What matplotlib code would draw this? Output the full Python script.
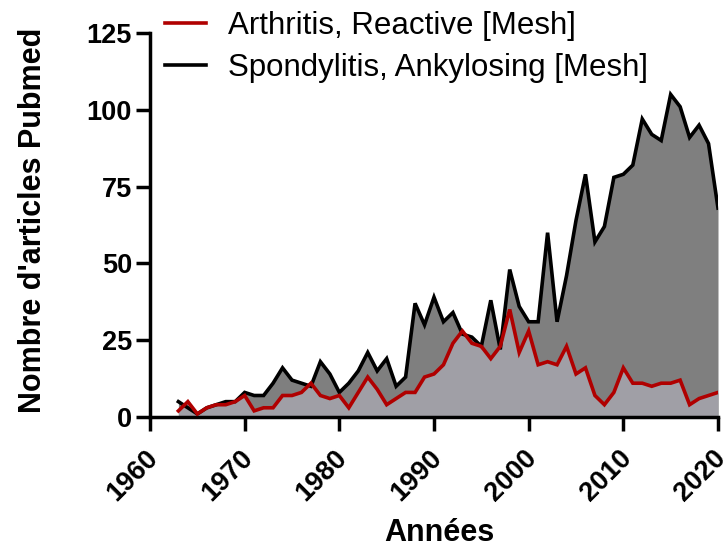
import matplotlib
matplotlib.use("Agg")
import matplotlib.pyplot as plt
from matplotlib.lines import Line2D
from matplotlib.transforms import ScaledTranslation

years = list(range(1963, 2021))
spondylitis = [5, 3, 1, 3, 4, 5, 5, 8, 7, 7, 11, 16, 12, 11, 10, 18, 14, 8, 11, 15,
               21, 15, 19, 10, 13, 37, 30, 39, 31, 34, 27, 26, 23, 38, 22, 48, 36, 31,
               31, 60, 31, 46, 64, 79, 57, 62, 78, 79, 82, 97, 92, 90, 105, 101, 91,
               95, 89, 68]
arthritis = [2, 5, 1, 3, 4, 4, 5, 7, 2, 3, 3, 7, 7, 8, 11, 7, 6, 7, 3, 8,
             13, 9, 4, 6, 8, 8, 13, 14, 17, 24, 28, 24, 23, 19, 23, 35, 21, 28,
             17, 18, 17, 23, 14, 16, 7, 4, 8, 16, 11, 11, 10, 11, 11, 12, 4,
             6, 7, 8]
labels = ["Arthritis, Reactive [Mesh]", "Spondylitis, Ankylosing [Mesh]"]
xticks = [1960, 1970, 1980, 1990, 2000, 2010, 2020]
yticks = [0, 25, 50, 75, 100, 125]

plt.rcParams['font.family'] = ['Liberation Sans', 'DejaVu Sans']

W, H = 726, 555
fig = plt.figure(figsize=(W/100, H/100), dpi=100)
L, R, B, T = 150, 718, 417, 33
ax = fig.add_axes([L/W, 1 - B/H, (R-L)/W, (B-T)/H])

dark_fill = '#7f7f7f'
light_fill = '#a09fa6'
red = '#b00000'
lw = 2.6

ax.fill_between(years, 0, spondylitis, color=dark_fill, lw=0, zorder=1)
ax.fill_between(years, 0, arthritis, color=light_fill, lw=0, zorder=2)
ax.plot(years, spondylitis, color='black', lw=lw, zorder=3, solid_joinstyle='miter')
ax.plot(years, arthritis, color=red, lw=lw, zorder=4, solid_joinstyle='miter')

ax.set_xlim(1960, 2020)
ax.set_ylim(0, 125)
ax.set_xticks(xticks)
ax.set_yticks(yticks)
for s in ['top', 'right']:
    ax.spines[s].set_visible(False)
for s in ['left', 'bottom']:
    ax.spines[s].set_linewidth(2.5)
    ax.spines[s].set_capstyle('projecting')
ax.tick_params(axis='both', length=10, width=2.5, direction='out', labelsize=19.5)
ax.tick_params(axis='y', pad=3)
ax.tick_params(axis='x', pad=10.5)
for lab in ax.get_yticklabels():
    lab.set_fontweight('bold')
offset = ScaledTranslation(-5/100, 0, fig.dpi_scale_trans)
for lab in ax.get_xticklabels():
    lab.set_fontweight('bold')
    lab.set_rotation(45)
    lab.set_ha('right')
    lab.set_va('top')
    lab.set_rotation_mode('anchor')
    lab.set_transform(lab.get_transform() + offset)

ax.set_xlabel('Années', fontsize=22, fontweight='bold')
ax.xaxis.set_label_coords((439 - L)/(R - L), (B - 518)/(B - T))
ax.set_ylabel("Nombre d'articles Pubmed", fontsize=22, fontweight='bold')
ax.yaxis.set_label_coords((48 - L)/(R - L), (B - 220)/(B - T))

handles = [Line2D([0], [0], color=red, lw=lw), Line2D([0], [0], color='black', lw=lw)]
fig.legend(handles, labels, loc='upper left', bbox_to_anchor=(162/W, 1 - 8/H),
           frameon=False, fontsize=22.5, handlelength=1.31, handletextpad=0.7,
           labelspacing=0.38, borderaxespad=0.0, borderpad=0.1)

fig.savefig('out.png', dpi=100)
